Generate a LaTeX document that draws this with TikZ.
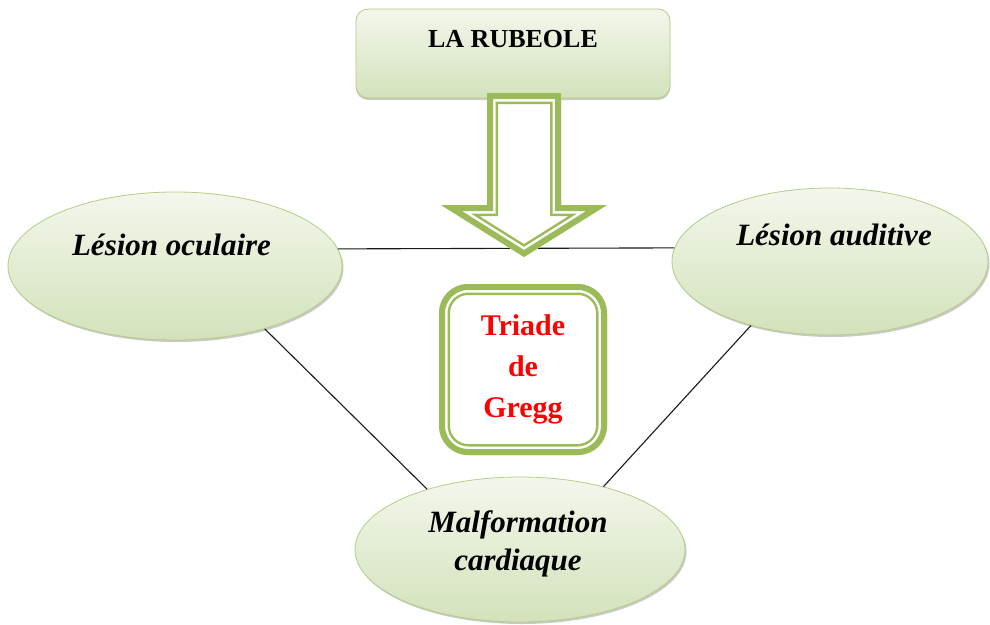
\documentclass[tikz,border=0pt]{standalone}
\usepackage{fontspec}
\setmainfont{Liberation Serif}
\usetikzlibrary{shapes.geometric,shadows}
\definecolor{ag}{HTML}{9BBB59}
\definecolor{gtop}{HTML}{F3F7EC}
\definecolor{gbot}{HTML}{D3E2BB}
\definecolor{gline}{HTML}{B3CE85}
\tikzset{
  oval/.style={ellipse, draw=gline, line width=0.8pt, top color=gtop, bottom color=gbot, inner sep=0,
    drop shadow={shadow xshift=1.5pt, shadow yshift=-2pt, opacity=0.35, fill=black!60}},
  ovaltxt/.style={font=\fontsize{31}{38}\selectfont\bfseries\itshape, align=center, inner sep=0},
  link/.style={draw=black!90, line width=1.1pt},
  rbox/.style={rectangle, rounded corners=12, draw=gline, line width=0.8pt, top color=gtop, bottom color=gbot,
    inner sep=0, drop shadow={shadow xshift=0pt, shadow yshift=-2pt, opacity=0.35, fill=black!60}},
  tgbox/.style={rectangle, rounded corners=29, fill=white, text=red, inner sep=0, align=center,
    font=\fontsize{30}{41}\selectfont\bfseries,
    path picture={
      \draw[ag, line width=22, rounded corners=29] (path picture bounding box.south west) rectangle (path picture bounding box.north east);
      \draw[white, line width=17, rounded corners=29] (path picture bounding box.south west) rectangle (path picture bounding box.north east);
      \draw[ag, line width=12, rounded corners=29] (path picture bounding box.south west) rectangle (path picture bounding box.north east);
    }},
  arrowshape/.style={insert path={(487,93) -- (561,93) -- (561,205) -- (607,205) -- (524,257) -- (441,205) -- (487,205) -- cycle}}
}
\begin{document}
\begin{tikzpicture}[x=1pt, y=-1pt]
\fill[white] (0,0) rectangle (990,624);
\useasboundingbox (0,0) rectangle (990,624);

% ellipses
\node[oval, minimum width=334, minimum height=148] (oc) at (175,266) {};
\node[oval, minimum width=316, minimum height=147] (au) at (830,261.5) {};
\node[oval, minimum width=330, minimum height=145] (mc) at (520,549.5) {};

\node[ovaltxt, anchor=base] (oct) at (171.5,255) {Lésion oculaire};
\node[ovaltxt, anchor=base] (aut) at (834,245) {Lésion auditive};
\node[ovaltxt] (mct) at (518,544) {Malformation\\cardiaque};

% connectors
\draw[link] (oc.6.3) -- (au.175.1);
\draw[link] (oc.-35.7) -- (mc.147.2);
\draw[link] (au.-141) -- (mc.37);

% central box
\node[tgbox, minimum width=168, minimum height=171] (tg) at (523,369.5) {Triade\\de\\Gregg};

% top box
\node[rbox, minimum width=314, minimum height=89] (rb) at (513,53.5) {};
\node[font=\fontsize{26}{30}\selectfont\bfseries, anchor=base, inner sep=0] (rbt) at (513,47) {LA RUBEOLE};

% block arrow
\begin{scope}[line join=miter]
  \clip[arrowshape];
  \fill[white, arrowshape];
  \draw[ag, line width=22, arrowshape];
  \draw[white, line width=17, arrowshape];
  \draw[ag, line width=12, arrowshape];
\end{scope}
\end{tikzpicture}
\end{document}
